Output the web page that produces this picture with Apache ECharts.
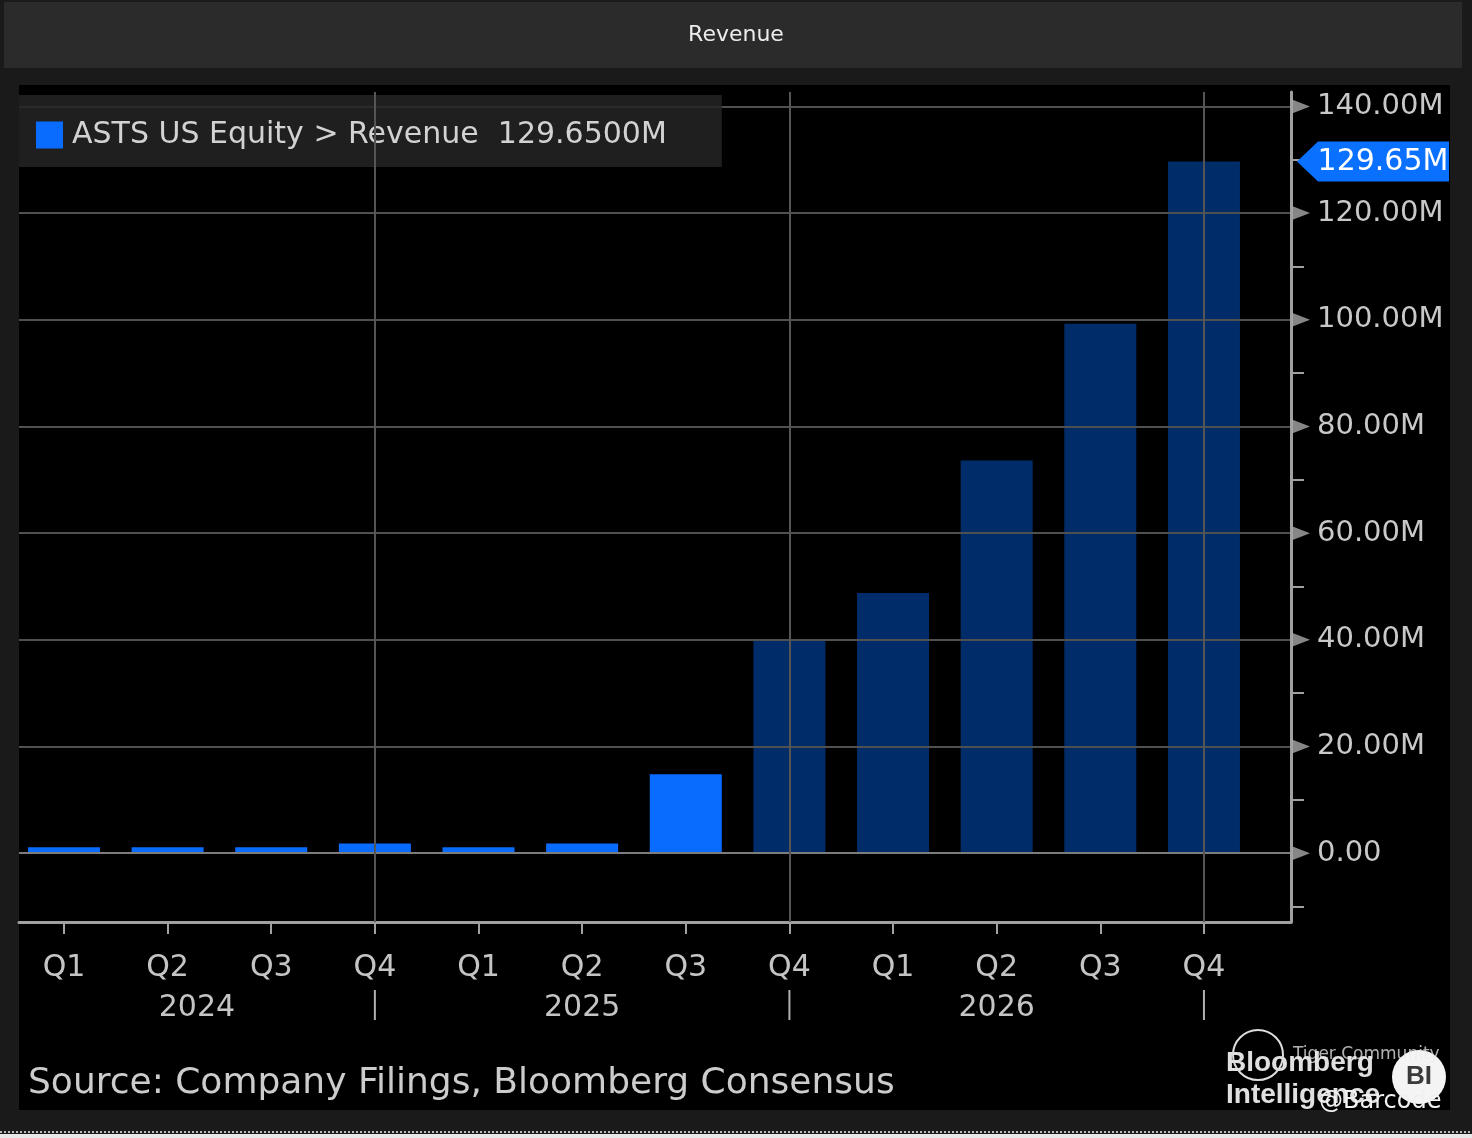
<!DOCTYPE html>
<html>
<head>
<meta charset="utf-8">
<script src="https://cdn.jsdelivr.net/npm/echarts@6/dist/echarts.min.js"></script>
<style>
html,body{margin:0;padding:0;background:#1a1a1a;}
#chart{width:1472px;height:1138px;}
</style>
</head>
<body>
<div id="chart"></div>
<script>
// ---- data ----
var quarterLabels = ['Q1','Q2','Q3','Q4','Q1','Q2','Q3','Q4','Q1','Q2','Q3','Q4'];
var yearLabels = ['2024','2025','2026'];
var yearEndIndex = [3, 7, 11];
var revenue = [1.1, 1.1, 1.1, 1.8, 1.1, 1.8, 14.8, 39.8, 48.8, 73.6, 99.25, 129.65];
var isEstimate = [false,false,false,false,false,false,false,true,true,true,true,true];
var majorTicks = [0, 20, 40, 60, 80, 100, 120, 140];
var minorTicks = [-10, 10, 30, 50, 70, 90, 110, 130];
var seriesName = 'ASTS US Equity > Revenue';
var titleText = 'Revenue';
var sourceText = 'Source: Company Filings, Bloomberg Consensus';

var X_MIN = -0.434, X_MAX = 11.84;
var Y_MIN = -12.9, Y_MAX = 142.7;
var FONT = '"DejaVu Sans", "Liberation Sans", sans-serif';
var LOGO_FONT = '"Liberation Sans", Arial, sans-serif';
var BRIGHT = '#0a6cff', NAVY = '#002d6a';

var lastVal = revenue[revenue.length - 1];

var barData = revenue.map(function (v, i) {
  return { value: [i, v], itemStyle: { color: isEstimate[i] ? NAVY : BRIGHT } };
});

var yearCenters = yearEndIndex.map(function (e, i) {
  var start = i === 0 ? X_MIN : yearEndIndex[i - 1];
  return (start + e) / 2;
});

function fmtM(v) {
  return v === 0 ? '0.00' : v.toFixed(2) + 'M';
}

var chart = echarts.init(document.getElementById('chart'));
var option = {
  backgroundColor: '#1a1a1a',
  animation: false,
  grid: { left: 19, right: 181, top: 92, bottom: 216, show: false },
  legend: {
    data: [seriesName],
    left: 19, top: 95,
    padding: [25, 55, 17, 17],
    backgroundColor: 'rgba(36,36,36,0.85)',
    itemWidth: 27, itemHeight: 27, itemGap: 10,
    icon: 'rect',
    selectedMode: false,
    textStyle: { color: '#d2d2d2', fontSize: 30, fontFamily: FONT, padding: [0, 0, 0, 4] },
    formatter: function (name) { return name + '  ' + lastVal.toFixed(4) + 'M'; }
  },
  xAxis: [{
    type: 'value', min: X_MIN, max: X_MAX, position: 'bottom', z: 3,
    axisLine: { show: true, onZero: false, lineStyle: { color: '#a0a0a0', width: 3 } },
    axisTick: { show: true, customValues: quarterLabels.map(function (q, i) { return i; }), length: 12, lineStyle: { color: '#a0a0a0', width: 2 } },
    axisLabel: {
      show: true, customValues: quarterLabels.map(function (q, i) { return i; }),
      formatter: function (v) { return quarterLabels[Math.round(v)]; },
      color: '#c4c4c4', fontSize: 30, fontFamily: FONT, margin: 46, verticalAlign: 'middle'
    },
    splitLine: { show: false }
  }, {
    type: 'value', min: X_MIN, max: X_MAX, position: 'bottom', offset: 68,
    axisLine: { show: false, onZero: false },
    axisTick: { show: false },
    axisLabel: {
      show: true, customValues: yearCenters,
      formatter: function (v) {
        var best = 0;
        yearCenters.forEach(function (c, i) { if (Math.abs(c - v) < Math.abs(yearCenters[best] - v)) best = i; });
        return yearLabels[best];
      },
      color: '#c4c4c4', fontSize: 30, fontFamily: FONT, margin: 18, verticalAlign: 'middle'
    },
    splitLine: { show: false }
  }],
  yAxis: [{
    type: 'value', position: 'right', min: Y_MIN, max: Y_MAX, z: 3,
    axisLine: { show: true, onZero: false, lineStyle: { color: '#a0a0a0', width: 3 } },
    axisTick: { show: false, customValues: majorTicks },
    axisLabel: {
      show: true, customValues: majorTicks, formatter: fmtM,
      color: '#c8c8c8', fontSize: 29, fontFamily: FONT, margin: 26
    },
    splitLine: { show: true, lineStyle: { color: ['#7c7c7c','#505050','#505050','#505050','#505050','#505050','#505050','#505050'], width: 2 } }
  }, {
    type: 'value', position: 'right', min: Y_MIN, max: Y_MAX,
    axisLine: { show: true, onZero: false, lineStyle: { color: 'rgba(0,0,0,0)' } },
    axisTick: { show: true, customValues: minorTicks, length: 13, lineStyle: { color: '#a0a0a0', width: 2 } },
    axisLabel: { show: false },
    splitLine: { show: false }
  }],
  series: [{
    name: seriesName,
    type: 'bar',
    xAxisIndex: 0, yAxisIndex: 0,
    barWidth: 72,
    z: 1,
    itemStyle: { color: BRIGHT },
    data: barData
  }, {
    name: 'ticks',
    type: 'scatter',
    xAxisIndex: 0, yAxisIndex: 0,
    z: 6, silent: true, clip: false,
    symbol: 'path://M0,0 L18,7 L0,14 Z',
    symbolSize: [18, 14],
    symbolOffset: [10, 0],
    itemStyle: { color: '#a8a8a8' },
    data: majorTicks.map(function (t) { return [X_MAX, t]; }),
    markLine: {
      silent: true, symbol: 'none',
      label: { show: false },
      lineStyle: { color: '#555555', width: 2, type: 'solid' },
      data: yearEndIndex.map(function (e) { return { xAxis: e }; })
    },
    markPoint: {
      silent: true,
      symbol: 'path://M0,20 L21,0 L152,0 L152,40 L21,40 Z',
      symbolSize: [152, 40],
      symbolOffset: [82, 0],
      itemStyle: { color: '#0a70ff' },
      label: {
        show: true, color: '#ffffff', fontSize: 30, fontFamily: FONT,
        offset: [10, 1],
        formatter: function () { return fmtM(lastVal); }
      },
      data: [{ coord: [X_MAX, lastVal] }]
    }
  }],
  graphic: [
    { type: 'rect', z: -100, shape: { x: 4, y: 2, width: 1458, height: 66 }, style: { fill: '#2b2b2b' } },
    { type: 'rect', z: -100, shape: { x: 19, y: 85, width: 1431, height: 1025 }, style: { fill: '#000000' } },
    { type: 'rect', z: -100, shape: { x: 0, y: 1134, width: 1472, height: 4 }, style: { fill: '#e8e8e8' } },
    { type: 'line', z: -90, shape: { x1: 0, y1: 1132, x2: 1472, y2: 1132 }, style: { stroke: '#bbbbbb', lineWidth: 2, lineDash: [2, 2] } },
    { type: 'text', z: 10, left: 'center', top: 24, style: { text: titleText, fill: '#ececec', fontSize: 22, fontFamily: FONT } },
    { type: 'text', z: 10, left: 28, top: 1066, style: { text: sourceText, fill: '#cccccc', fontSize: 36, fontFamily: FONT } },
    { type: 'text', z: 10, left: 1226, top: 1049, style: { text: 'Bloomberg', fill: '#e0e0e0', fontSize: 28, fontWeight: 'bold', fontFamily: LOGO_FONT } },
    { type: 'text', z: 10, left: 1226, top: 1081, style: { text: 'Intelligence', fill: '#e0e0e0', fontSize: 28, fontWeight: 'bold', fontFamily: LOGO_FONT } },
    { type: 'circle', z: 10, shape: { cx: 1419, cy: 1077, r: 27 }, style: { fill: '#f4f4f4' } },
    { type: 'text', z: 11, x: 1419, y: 1077, style: { text: 'BI', fill: '#3a3a3a', fontSize: 26, fontWeight: 'bold', fontFamily: LOGO_FONT, align: 'center', verticalAlign: 'middle' } },
    { type: 'circle', z: 12, shape: { cx: 1258, cy: 1055, r: 25 }, style: { fill: 'none', stroke: '#dddddd', lineWidth: 2 } },
    { type: 'text', z: 12, left: 1293, top: 1046, style: { text: 'Tiger Community', fill: 'rgba(235,235,235,0.75)', fontSize: 17, fontFamily: FONT } },
    { type: 'text', z: 12, left: 1319, top: 1090, style: { text: '@Barcode', fill: '#f0f0f0', fontSize: 24, fontFamily: FONT } }
  ]
};
chart.setOption(option);

// year separators below the quarter labels, positioned through the x scale
var sepGraphics = yearEndIndex.map(function (e) {
  var px = chart.convertToPixel({ xAxisIndex: 0 }, e);
  return { type: 'line', z: 10, shape: { x1: px, y1: 990, x2: px, y2: 1020 }, style: { stroke: '#b0b0b0', lineWidth: 2 } };
});
chart.setOption({ graphic: option.graphic.concat(sepGraphics) });
</script>
</body>
</html>
